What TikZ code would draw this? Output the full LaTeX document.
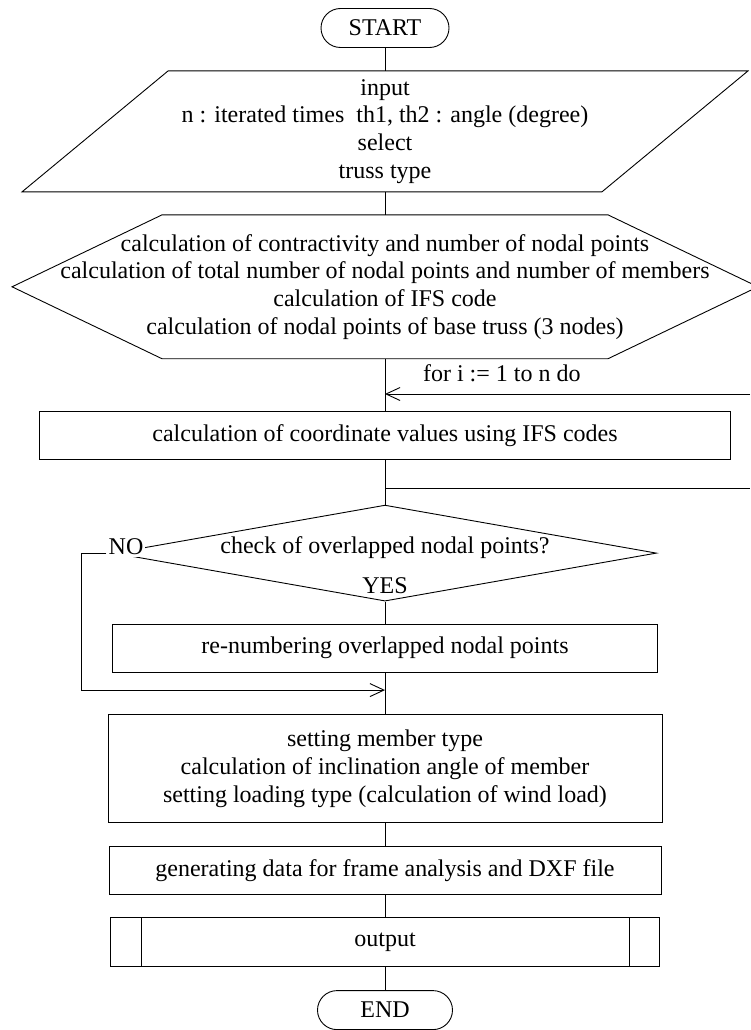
\documentclass[tikz,border=0pt]{standalone}
\usepackage{fontspec}
\setmainfont{Liberation Serif}
\usetikzlibrary{positioning,calc,shapes.misc,shapes.geometric,arrows.meta}

\begin{document}
\begin{tikzpicture}[
		x=1pt,y=-1pt,
		font=\fontsize{24}{27.7}\selectfont,
		line width=0.9pt,
		box/.style={draw, align=center, inner sep=3pt, minimum height=48pt},
		term/.style={draw, rounded rectangle, minimum width=132pt, minimum height=39pt, inner sep=2pt},
		frame/.style={align=center, inner sep=3pt},
		lab/.style={inner sep=2pt},
		>={Straight Barb[length=14pt,width=13pt]}
		]
		\useasboundingbox (0,0) rectangle (750,1030);
		
		% ====== main column ======
		\node[term] (start) at (385,28) {START};
		
		\node[frame, minimum width=725pt, minimum height=120pt, below=23pt of start] (inp)
		{input\\
			n : iterated times~~th1, th2 : angle (degree)\\
			select\\
			truss type};
		
		\node[frame, minimum width=745pt, minimum height=143pt, below=23pt of inp] (calc)
		{calculation of contractivity and number of nodal points\\
			calculation of total number of nodal points and number of members\\
			calculation of IFS code\\
			calculation of nodal points of base truss (3 nodes)};
		
		\node[box, minimum width=691pt, below=52pt of calc] (coord)
		{calculation of coordinate values using IFS codes};
		
		\node[draw, diamond, aspect=5.66, inner sep=0pt, minimum width=543pt, minimum height=96pt,
		text height=16pt, text depth=16pt, below=45pt of coord] (check)
		{check of overlapped nodal points?};
		
		\node[box, minimum width=545pt, below=22pt of check] (renum)
		{re-numbering overlapped nodal points};
		
		\node[box, minimum width=554pt, minimum height=108pt, below=42pt of renum] (set)
		{setting member type\\
			calculation of inclination angle of member\\
			setting loading type (calculation of wind load)};
		
		\node[box, minimum width=552pt, below=23pt of set] (gen)
		{generating data for frame analysis and DXF file};
		
		\node[box, minimum width=549pt, minimum height=49pt, below=22pt of gen] (out)
		{output};
		
		\node[term, minimum width=139pt, below=23pt of out] (stop) {END};
		
		% ====== outlines ======
		\draw (inp.south west) -- ([xshift=-146pt]inp.south east) -- (inp.north east)
		-- ([xshift=146pt]inp.north west) -- cycle;
		\draw (calc.west) -- ([xshift=150pt]calc.north west) -- ([xshift=-150pt]calc.north east)
		-- (calc.east) -- ([xshift=-150pt]calc.south east) -- ([xshift=150pt]calc.south west) -- cycle;
		\draw ([xshift=31pt]out.north west) -- ([xshift=31pt]out.south west);
		\draw ([xshift=-31pt]out.north east) -- ([xshift=-31pt]out.south east);
		
		% ====== connectors ======
		\foreach \a/\b in {start/inp, inp/calc, calc/coord, coord/check, check/renum,
			renum/set, set/gen, gen/out, out/stop}
		\draw (\a.south) -- (\b.north);
		
		% loop
		\coordinate (loopin) at (750,394);
		\coordinate (loopout) at (750,488);
		\draw[->] (loopin) -- node[lab, above=10pt, pos=0.68] {for i := 1 to n do} (loopin -| calc.south);
		\draw (loopout -| coord.south) -- (loopout);
		
		% branch
		\node[lab, fill=white] (no) at ([xshift=13pt,yshift=6pt]check.west) {NO};
		\node[lab, anchor=south] (yes) at ([yshift=5pt]check.south) {YES};
		\coordinate (join) at ($(renum.south)!0.42!(set.north)$);
		\draw[->] (no.west |- check.west) -- ++(-25pt,0) |- (join);
		
\end{tikzpicture}
\end{document}
